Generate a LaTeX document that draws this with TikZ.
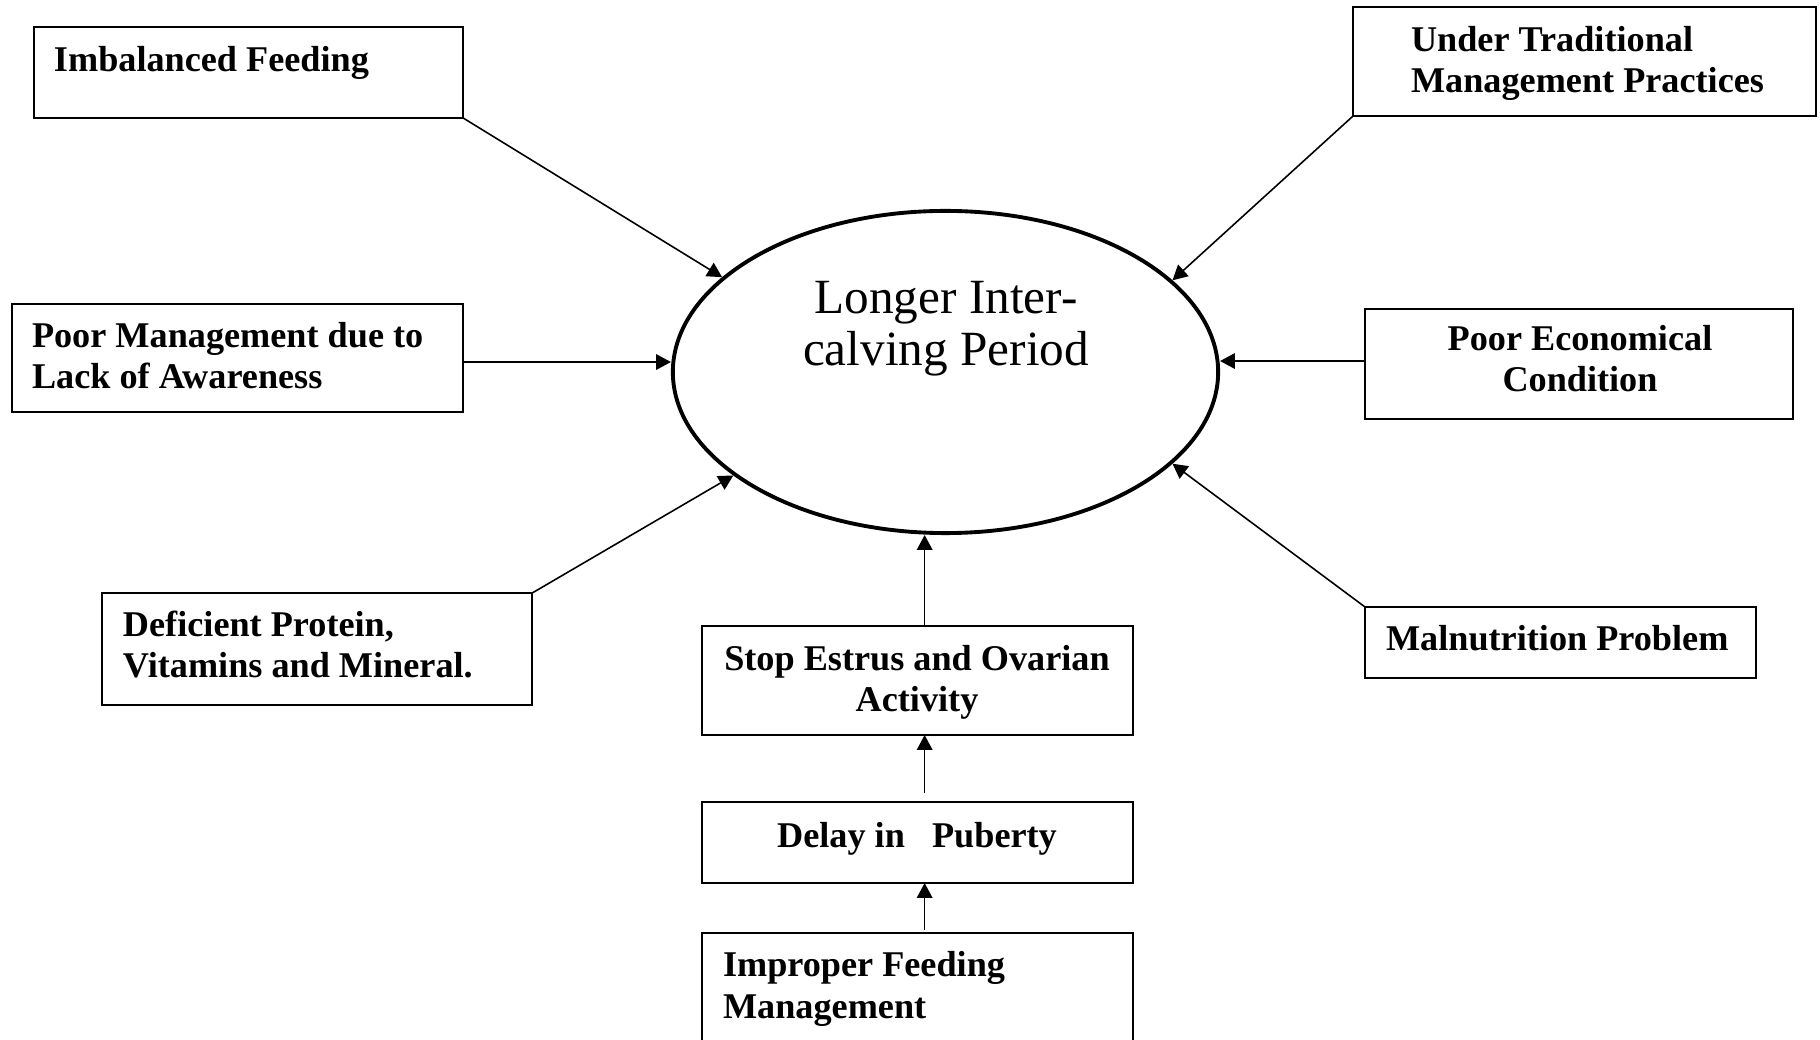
\documentclass[tikz,border=0pt]{standalone}
\usepackage{fontspec}
\setmainfont{Liberation Serif}
\usetikzlibrary{shapes.geometric,arrows.meta,calc}
\begin{document}
\begin{tikzpicture}[x=0.01cm,y=-0.01cm,
  box/.style={draw, line width=0.45pt, rectangle, inner sep=0pt, outer sep=0pt, anchor=north west},
  lbl/.style={font=\fontsize{10.3}{11.9}\selectfont\bfseries, inner sep=0pt, outer sep=0pt},
  arr/.style={line width=0.45pt, -{Triangle[length=4.2pt,width=4.4pt]}}]
\useasboundingbox (0,0) rectangle (1820,1040);

% central effect (text nodes below are placed by the baseline of their last line)
\node[draw, ellipse, line width=1.1pt, minimum width=5.45cm, minimum height=3.22cm, inner sep=0pt] (ell) at (945.5,372) {};
\node[font=\fontsize{14}{15}\selectfont, align=center, anchor=base, inner sep=0pt] (ellT) at (946,366) {Longer Inter-\\calving Period};

% cause boxes
\node[box, minimum width=4.29cm, minimum height=0.91cm] (imb) at (34,27) {};
\node[lbl, anchor=base west] (imbT) at (54,72) {Imbalanced Feeding};

\node[box, minimum width=4.63cm, minimum height=1.09cm] (utm) at (1353,7) {};
\node[lbl, anchor=base west, align=left] (utmT) at (1411,93) {Under Traditional\\Management Practices};

\node[box, minimum width=4.51cm, minimum height=1.08cm] (pm) at (12,304) {};
\node[lbl, anchor=base west, align=left] (pmT) at (32,389) {Poor Management due to\\Lack of Awareness};

\node[box, minimum width=4.28cm, minimum height=1.10cm] (pe) at (1365,309) {};
\node[lbl, anchor=base, align=center] (peT) at (1580,392) {Poor Economical\\Condition};

\node[box, minimum width=4.30cm, minimum height=1.12cm] (def) at (102,593) {};
\node[lbl, anchor=base west, align=left] (defT) at (123,678) {Deficient Protein,\\Vitamins and Mineral.};

\node[box, minimum width=3.91cm, minimum height=0.71cm] (mal) at (1365,607) {};
\node[lbl, anchor=base west] (malT) at (1386,651) {Malnutrition Problem};

% chain below the ellipse
\node[box, minimum width=4.31cm, minimum height=1.09cm] (stop) at (702,626) {};
\node[lbl, anchor=base, align=center] (stopT) at (917,712) {Stop Estrus and Ovarian\\Activity};

\node[box, minimum width=4.31cm, minimum height=0.81cm] (delay) at (702,802) {};
\node[lbl, anchor=base] (delayT) at (917,847) {Delay in\ \ \ Puberty};

\node[box, minimum width=4.31cm, minimum height=1.30cm] (imp) at (702,933) {};
\node[lbl, anchor=base west, align=left] (impT) at (723,1018) {Improper Feeding\\Management};

% connectors into the ellipse
\draw[arr] (imb.south east) -- (ell.157);
\draw[arr] (utm.south west) -- (ell.22);
\coordinate (p1) at ([yshift=-0.04cm]pm.east);
\draw[arr] (p1) -- (p1 -| ell.west);
\coordinate (e1) at ([yshift=0.03cm]pe.west);
\draw[arr] (e1) -- (e1 -| ell.east);
\draw[arr] (def.north east) -- (ell.206.6);
\draw[arr] (mal.north west) -- (ell.338.3);

% vertical chain connectors
\coordinate (s1) at ([xshift=0.07cm]stop.north);
\draw[arr] (s1) -- (s1 |- ell.south);
\coordinate (d1) at ([xshift=0.07cm,yshift=0.09cm]delay.north);
\draw[arr] (d1) -- (d1 |- stop.south);
\coordinate (i1) at ([xshift=0.07cm,yshift=0.03cm]imp.north);
\draw[arr] (i1) -- (i1 |- delay.south);
\end{tikzpicture}
\end{document}
